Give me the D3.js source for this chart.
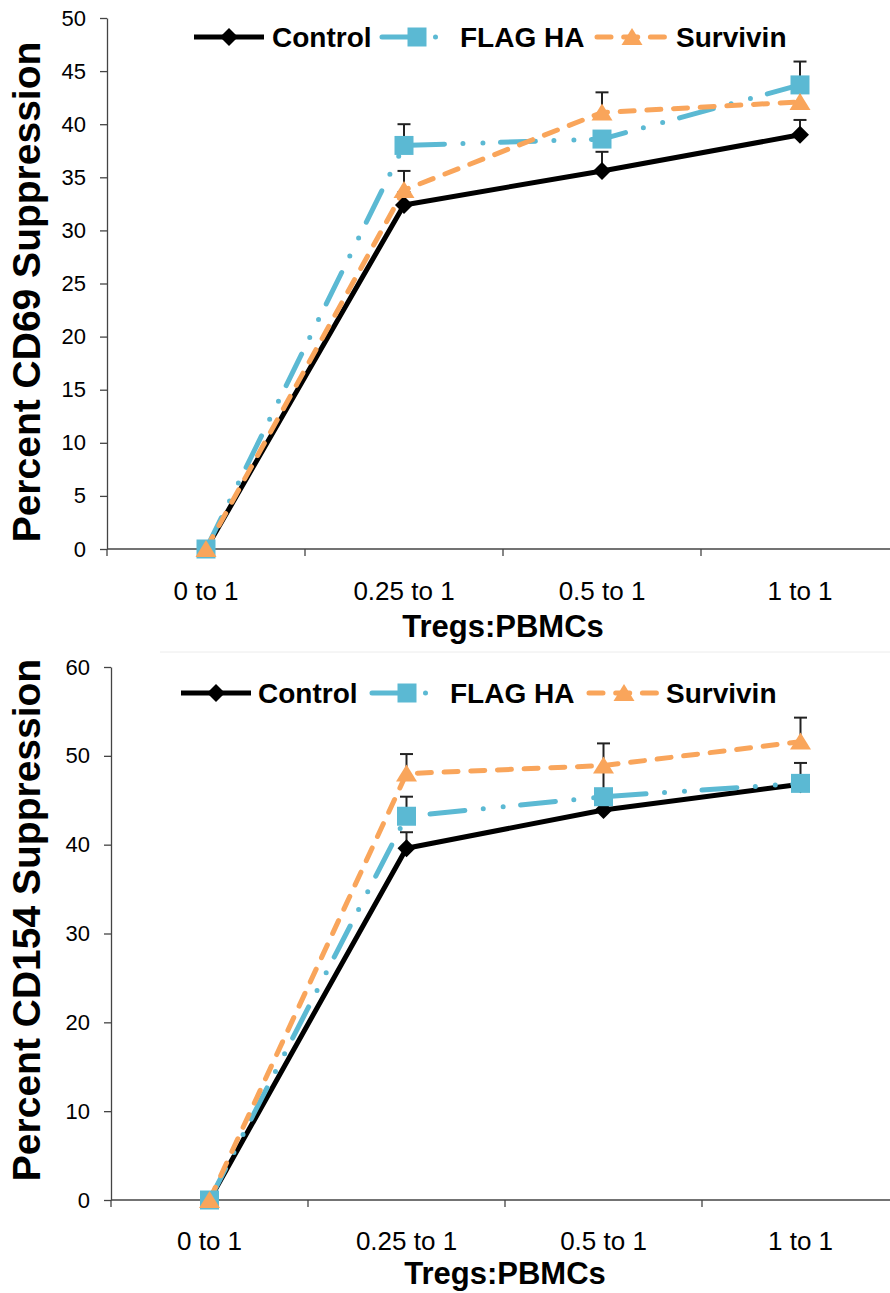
<!DOCTYPE html>
<html>
<head>
<meta charset="utf-8">
<script src="https://cdn.jsdelivr.net/npm/d3@7"></script>
<style>
  html, body { margin: 0; padding: 0; background: #fff; }
  svg { display: block; }
  text { font-family: "Liberation Sans", Arial, sans-serif; fill: #000; }
</style>
</head>
<body>
<svg id="chart" width="890" height="1293"></svg>
<script>
// ---------------- data ----------------
const categories = ["0 to 1", "0.25 to 1", "0.5 to 1", "1 to 1"];
const seriesNames = ["Control", "FLAG HA", "Survivin"];

const cd69Control    = [0, 32.4, 35.6, 39.0];
const cd69ControlErr = [0, 1.2, 1.8, 1.4];
const cd69Flag       = [0, 38.0, 38.6, 43.7];
const cd69FlagErr    = [0, 2.0, 0.7, 2.2];
const cd69Surv       = [0, 33.8, 41.1, 42.1];
const cd69SurvErr    = [0, 1.8, 1.9, 1.2];

const cd154Control    = [0, 39.6, 43.9, 46.8];
const cd154ControlErr = [0, 1.8, 1.5, 1.0];
const cd154Flag       = [0, 43.2, 45.4, 46.9];
const cd154FlagErr    = [0, 2.2, 3.0, 2.3];
const cd154Surv       = [0, 48.0, 48.9, 51.6];
const cd154SurvErr    = [0, 2.2, 2.5, 2.7];

const cd69Ticks  = [0, 5, 10, 15, 20, 25, 30, 35, 40, 45, 50];
const cd154Ticks = [0, 10, 20, 30, 40, 50, 60];

const xTitle = "Tregs:PBMCs";

// ---------------- styles ----------------
const styles = {
  "Control":  { color: "#000000", dash: null, marker: "diamond" },
  "FLAG HA":  { color: "#5BB9D3", dash: "35,18.5,0,20,0,17.5", marker: "square" },
  "Survivin": { color: "#F9A55B", dash: "14,12.7", marker: "triangle" }
};

function markerPath(type) {
  if (type === "diamond") return "M0,-9L9,0L0,9L-9,0Z";
  if (type === "square") return "M-9.5,-9.5H9.5V9.5H-9.5Z";
  return "M0,-9L10.5,8L-10.5,8Z";
}

const svg = d3.select("#chart");

// faint panel border between charts
svg.append("line").attr("x1", 160).attr("x2", 890).attr("y1", 652).attr("y2", 652)
  .attr("stroke", "#ececec").attr("stroke-width", 1);

function drawChart(cfg) {
  const g = svg.append("g");
  const x = d3.scaleBand().domain(categories).range([cfg.left, cfg.right]);
  const y = d3.scaleLinear().domain([0, cfg.max]).range([cfg.bottom, cfg.top]);
  const cx = c => x(c) + x.bandwidth() / 2;

  // y axis
  const ya = g.append("g").attr("transform", `translate(${cfg.left},0)`)
    .call(d3.axisLeft(y).tickValues(cfg.ticks).tickSize(7).tickPadding(14).tickSizeOuter(0));
  ya.select(".domain").attr("stroke", "#444").attr("stroke-width", 1.3);
  ya.selectAll(".tick line").attr("stroke", "#444").attr("stroke-width", 1.3);
  ya.selectAll(".tick text").style("font-size", "22px").style("font-family", "Liberation Sans, Arial, sans-serif").attr("fill", "#000");

  // x axis line and boundary ticks
  g.append("line").attr("x1", cfg.left).attr("x2", 890)
    .attr("y1", y(0)).attr("y2", y(0)).attr("stroke", "#444").attr("stroke-width", 1.3);
  const bounds = categories.map(c => x(c)).concat([x(categories[categories.length - 1]) + x.bandwidth()]);
  g.selectAll(".xt").data(bounds).enter().append("line")
    .attr("x1", d => d).attr("x2", d => d)
    .attr("y1", y(0)).attr("y2", y(0) + 7)
    .attr("stroke", "#444").attr("stroke-width", 1.3);
  g.selectAll(".xl").data(categories).enter().append("text")
    .attr("x", d => cx(d)).attr("y", cfg.labelY)
    .attr("text-anchor", "middle").style("font-size", "26px").text(d => d);
  g.append("text").attr("x", (cfg.left + bounds[bounds.length - 1]) / 2).attr("y", cfg.titleY)
    .attr("text-anchor", "middle").style("font-size", "31px").style("font-weight", "bold").text(xTitle);

  // y title
  g.append("text").attr("transform", `translate(40,${cfg.yTitleY}) rotate(-90)`)
    .attr("text-anchor", "middle").style("font-size", "39px").style("font-weight", "bold").text(cfg.yTitle);

  const series = seriesNames.map((n, i) => ({ name: n, values: cfg.values[i], errs: cfg.errs[i] }));

  const line = d3.line().x((d, i) => cx(categories[i])).y(d => y(d));
  // lines
  series.forEach(s => {
    const st = styles[s.name];
    g.append("path").datum(s.values).attr("d", line)
      .attr("fill", "none").attr("stroke", st.color).attr("stroke-width", 5)
      .attr("stroke-linecap", st.dash ? "round" : "butt").attr("stroke-linejoin", "round")
      .attr("stroke-dasharray", st.dash);
  });
  // error bars
  series.forEach(s => {
    s.values.forEach((v, i) => {
      const e = s.errs[i];
      if (!e) return;
      const xx = cx(categories[i]);
      g.append("line").attr("x1", xx).attr("x2", xx).attr("y1", y(v)).attr("y2", y(v + e))
        .attr("stroke", "#222").attr("stroke-width", 2);
      g.append("line").attr("x1", xx - 6.5).attr("x2", xx + 6.5).attr("y1", y(v + e)).attr("y2", y(v + e))
        .attr("stroke", "#222").attr("stroke-width", 2);
    });
  });
  // markers
  series.forEach(s => {
    const st = styles[s.name];
    g.selectAll(null).data(s.values).enter().append("path")
      .attr("d", markerPath(st.marker))
      .attr("transform", (d, i) => `translate(${cx(categories[i])},${y(d)})`)
      .attr("fill", st.color);
  });

  // legend
  const lg = g.append("g");
  cfg.legend.forEach((L, i) => {
    const st = styles[seriesNames[i]];
    lg.append("line").attr("x1", L.x).attr("x2", L.x + 70).attr("y1", cfg.legendY).attr("y2", cfg.legendY)
      .attr("stroke", st.color).attr("stroke-width", 5)
      .attr("stroke-linecap", st.dash ? "round" : "butt").attr("stroke-dasharray", st.dash);
    lg.append("path").attr("d", markerPath(st.marker))
      .attr("transform", `translate(${L.x + 35},${cfg.legendY})`).attr("fill", st.color);
    lg.append("text").attr("x", L.tx).attr("y", cfg.legendY + 10)
      .style("font-size", "28px").style("font-weight", "bold").text(seriesNames[i]);
  });
}

drawChart({
  left: 107, right: 899, top: 18, bottom: 549, max: 50, ticks: cd69Ticks,
  labelY: 600, titleY: 637, yTitleY: 292, yTitle: "Percent CD69 Suppression",
  values: [cd69Control, cd69Flag, cd69Surv],
  errs: [cd69ControlErr, cd69FlagErr, cd69SurvErr],
  legendY: 37,
  legend: [{ x: 194, tx: 272 }, { x: 382, tx: 460 }, { x: 597, tx: 676 }]
});

drawChart({
  left: 111, right: 899, top: 667, bottom: 1200, max: 60, ticks: cd154Ticks,
  labelY: 1250, titleY: 1284, yTitleY: 920, yTitle: "Percent CD154 Suppression",
  values: [cd154Control, cd154Flag, cd154Surv],
  errs: [cd154ControlErr, cd154FlagErr, cd154SurvErr],
  legendY: 693,
  legend: [{ x: 181, tx: 258 }, { x: 372, tx: 450 }, { x: 589, tx: 666 }]
});
</script>
</body>
</html>
